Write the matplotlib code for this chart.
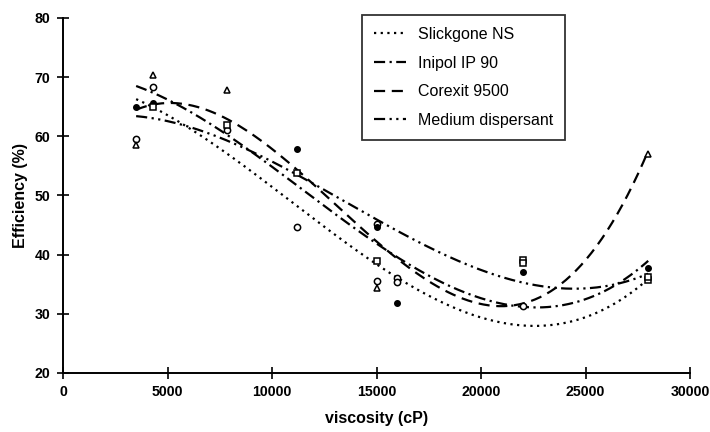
import numpy as np
import matplotlib
matplotlib.use('Agg')
import matplotlib.pyplot as plt

plt.rcParams['font.family'] = ['Liberation Sans', 'DejaVu Sans']

# measured points, grouped by marker shape
circle_x = [3500, 4300, 7850, 11200, 15000, 15000, 16000, 16000, 22000]
circle_y = [59.5, 68.3, 61.1, 44.7, 45.2, 35.5, 36.0, 35.3, 31.3]
dot_x = [3500, 4300, 11200, 15000, 16000, 22000, 28000]
dot_y = [65.0, 65.6, 57.9, 44.6, 31.8, 37.1, 37.8]
triangle_x = [3500, 4300, 7850, 15000, 28000]
triangle_y = [58.5, 70.4, 67.8, 34.3, 57.0]
square_x = [4300, 7850, 11200, 15000, 22000, 22000, 28000, 28000]
square_y = [65.0, 61.9, 53.8, 38.9, 39.1, 38.6, 35.7, 36.2]

# trend curves
curve_x = [3500, 5000, 7500, 10000, 12500, 15000, 17500, 20000, 22500, 25000, 28000]
slickgone_y = [65.5, 64.3, 58.5, 51.5, 44.5, 38.0, 32.5, 29.5, 28.5, 29.8, 35.5]
inipol_y = [68.7, 65.8, 61.3, 55.0, 48.3, 41.5, 36.5, 32.8, 31.2, 32.3, 39.0]
corexit_y = [65.3, 65.3, 62.5, 57.5, 50.5, 43.0, 36.0, 32.2, 31.8, 37.5, 58.5]
medium_y = [62.5, 63.0, 60.8, 56.5, 50.5, 44.8, 40.5, 37.5, 35.8, 35.2, 36.0]

labels = ['Slickgone NS', 'Inipol IP 90', 'Corexit 9500', 'Medium dispersant']
styles = [(0, (1, 2)), (0, (5, 2, 1, 2)), (0, (5, 3)), (0, (5, 2, 1, 2, 1, 2))]

fig = plt.figure(figsize=(7.1, 4.32), dpi=100)
ax = fig.add_axes([63 / 710, 1 - 373 / 432, 627 / 710, 355 / 432])

xs = np.linspace(3500, 28000, 200)
handles = []
for ys, lab, ls in zip([slickgone_y, inipol_y, corexit_y, medium_y], labels, styles):
    coef = np.polyfit(curve_x, ys, 3)
    h, = ax.plot(xs, np.polyval(coef, xs), color='black', lw=1.6, ls=ls, label=lab)
    handles.append(h)

ax.plot(circle_x, circle_y, 'o', ms=4.5, mfc='white', mec='black', mew=1.1)
ax.plot(dot_x, dot_y, 'o', ms=4, mfc='black', mec='black')
ax.plot(triangle_x, triangle_y, '^', ms=5, mfc='white', mec='black', mew=1.1)
ax.plot(square_x, square_y, 's', ms=4.5, mfc='white', mec='black', mew=1.1)

ax.set_xlim(0, 30000)
ax.set_ylim(20, 80)
ax.set_xticks(range(0, 30001, 5000))
ax.set_yticks(range(20, 81, 10))
for s in ['top', 'right']:
    ax.spines[s].set_visible(False)
ax.spines['left'].set_linewidth(1.4)
ax.spines['bottom'].set_linewidth(1.4)
ax.tick_params(direction='inout', length=8, width=1.2, labelsize=10.2, pad=5)
for t in ax.get_xticklabels() + ax.get_yticklabels():
    t.set_fontweight('bold')

ax.set_xlabel('viscosity (cP)', fontsize=11.5, fontweight='bold', labelpad=8)
ax.set_ylabel('Efficiency (%)', fontsize=11.5, fontweight='bold', labelpad=5)

leg = ax.legend(handles=handles, loc='upper left', bbox_to_anchor=(362 / 710, 1 - 15 / 432),
                bbox_transform=fig.transFigure, frameon=True, fancybox=False,
                edgecolor='black', fontsize=11.5, handlelength=2.0, labelspacing=0.85,
                borderpad=0.75, handletextpad=0.75, borderaxespad=0)
leg.get_frame().set_linewidth(1.3)

fig.savefig('out.png', dpi=100)
